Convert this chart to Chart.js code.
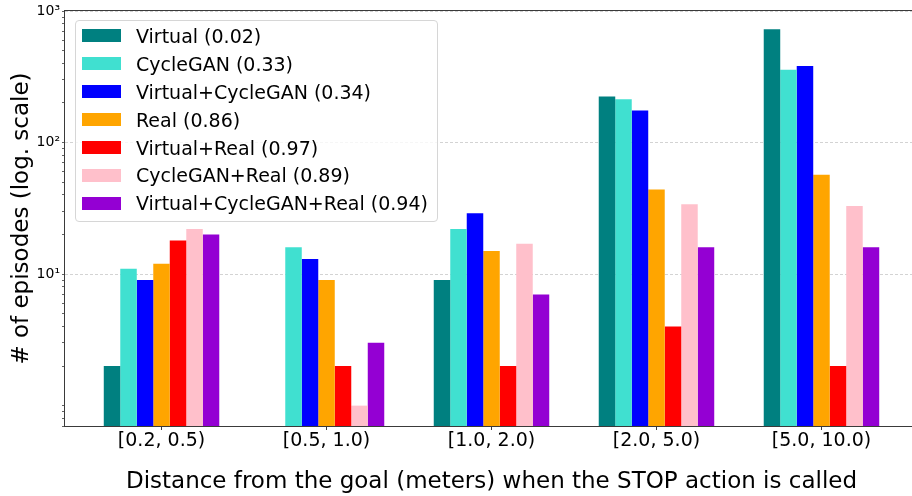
<!DOCTYPE html>
<html>
<head>
<meta charset="utf-8">
<title>Episodes by distance from goal</title>
<script src="https://cdn.jsdelivr.net/npm/chart.js@4"></script>
<style>
    body { margin: 0; background: #fff; }
    #wrap { position: relative; width: 912px; height: 496px; overflow: hidden; }
    #legend {
        position: absolute; left: 75px; top: 20px;
        width: 363px; height: 202px; box-sizing: border-box;
        padding: 1px 0 0 6px;
        border: 1px solid #d6d6d6; border-radius: 4px;
        background: rgba(255, 255, 255, 0.8);
        font-family: "DejaVu Sans", sans-serif; font-size: 19px; color: #000;
    }
    .legend-row { display: flex; align-items: center; height: 27.9px; white-space: nowrap; }
    .legend-swatch { flex: none; width: 39px; height: 13px; margin-right: 15px; }
</style>
</head>
<body>
<div id="wrap">
    <canvas id="episodeChart" width="930" height="496"></canvas>
    <div id="legend"></div>
</div>
<script>
// distance bins
const categories = ["[0.2, 0.5)", "[0.5, 1.0)", "[1.0, 2.0)", "[2.0, 5.0)", "[5.0, 10.0)"];

// episodes per bin, one list per training setup
const virtualEpisodes = [2, null, 9, 224, 728];
const cycleGanEpisodes = [11, 16, 22, 213, 357];
const virtualCycleGanEpisodes = [9, 13, 29, 175, 382];
const realEpisodes = [12, 9, 15, 44, 57];
const virtualRealEpisodes = [18, 2, 2, 4, 2];
const cycleGanRealEpisodes = [22, 1, 17, 34, 33];
const virtualCycleGanRealEpisodes = [20, 3, 7, 16, 16];

const seriesLabels = [
    "Virtual (0.02)",
    "CycleGAN (0.33)",
    "Virtual+CycleGAN (0.34)",
    "Real (0.86)",
    "Virtual+Real (0.97)",
    "CycleGAN+Real (0.89)",
    "Virtual+CycleGAN+Real (0.94)"
];

// y tick labels (log scale)
const yMajorTicks = [10, 100, 1000];
const yTickLabels = ["10¹", "10²", "10³"];

const xTitle = "Distance from the goal (meters) when the STOP action is called";
const yTitle = "# of episodes (log. scale)";

const seriesColors = ["#008080", "#40e0d0", "#0000ff", "#ffa500", "#ff0000", "#ffc0cb", "#9400d3"];

const seriesValues = [
    virtualEpisodes,
    cycleGanEpisodes,
    virtualCycleGanEpisodes,
    realEpisodes,
    virtualRealEpisodes,
    cycleGanRealEpisodes,
    virtualCycleGanRealEpisodes
];

Chart.defaults.font.family = "'DejaVu Sans', sans-serif";
Chart.defaults.color = "#000";

// plot frame (all four spines)
const framePlugin = {
    id: "frame",
    afterDatasetsDraw(chart) {
        const { ctx, chartArea } = chart;
        ctx.save();
        ctx.strokeStyle = "#3a3a3a";
        ctx.lineWidth = 1;
        ctx.strokeRect(chartArea.left - 0.5, chartArea.top - 0.5,
            chartArea.right - chartArea.left + 1, chartArea.bottom - chartArea.top + 1);
        ctx.restore();
    }
};

const datasets = seriesLabels.map(function (label, i) {
    return {
        label: label,
        data: seriesValues[i],
        backgroundColor: seriesColors[i],
        borderWidth: 0,
        categoryPercentage: 0.7,
        barPercentage: 1.0
    };
});

new Chart(document.getElementById("episodeChart"), {
    type: "bar",
    data: {
        labels: categories.map(function (c, i) { return i; }),
        datasets: datasets
    },
    options: {
        responsive: false,
        animation: false,
        layout: { padding: { top: 11, right: 12, bottom: 0, left: 0 } },
        plugins: {
            legend: { display: false },
            tooltip: { enabled: false }
        },
        scales: {
            x: {
                type: "linear",
                offset: false,
                min: -0.585,
                max: 4.585,
                afterBuildTicks: function (axis) {
                    axis.ticks = categories.map(function (c, i) { return { value: i }; });
                },
                afterFit: function (axis) { axis.height = 70; },
                ticks: {
                    autoSkip: false,
                    maxRotation: 0,
                    padding: 0,
                    font: { size: 19 },
                    callback: function (value) { return categories[value]; }
                },
                grid: { offset: false, drawOnChartArea: false, tickLength: 4, tickColor: "#3a3a3a" },
                border: { display: false },
                title: {
                    display: true,
                    text: xTitle,
                    font: { size: 23 },
                    padding: { top: 0, bottom: 0 }
                }
            },
            y: {
                type: "logarithmic",
                min: 0.726,
                max: 1000,
                afterBuildTicks: function (axis) {
                    // decade + minor ticks, 1..9 per decade
                    const ticks = [];
                    for (let e = -1; e <= 3; e++) {
                        for (let d = 1; d <= 9; d++) {
                            const v = +(d * Math.pow(10, e)).toFixed(3);
                            if (v >= axis.min && v <= axis.max) ticks.push({ value: v });
                        }
                    }
                    axis.ticks = ticks;
                },
                afterFit: function (axis) { axis.width = 65; },
                ticks: {
                    autoSkip: false,
                    padding: 2,
                    font: { size: 14 },
                    callback: function (value) {
                        const idx = yMajorTicks.indexOf(value);
                        return idx >= 0 ? yTickLabels[idx] : "";
                    }
                },
                grid: {
                    tickLength: 3,
                    tickColor: "#3a3a3a",
                    lineWidth: 0.8,
                    color: function (context) {
                        return context.tick && yMajorTicks.indexOf(context.tick.value) >= 0 ? "#c8c8c8" : "rgba(0,0,0,0)";
                    }
                },
                border: { display: false, dash: [3, 2] },
                title: {
                    display: true,
                    text: yTitle,
                    font: { size: 23 },
                    padding: { top: 8, bottom: 0 }
                }
            }
        }
    },
    plugins: [framePlugin]
});

// html legend inside the plot
const legendBox = document.getElementById("legend");
seriesLabels.forEach(function (label, i) {
    const row = document.createElement("div");
    row.className = "legend-row";
    const swatch = document.createElement("span");
    swatch.className = "legend-swatch";
    swatch.style.background = seriesColors[i];
    const text = document.createElement("span");
    text.textContent = label;
    row.appendChild(swatch);
    row.appendChild(text);
    legendBox.appendChild(row);
});
</script>
</body>
</html>
